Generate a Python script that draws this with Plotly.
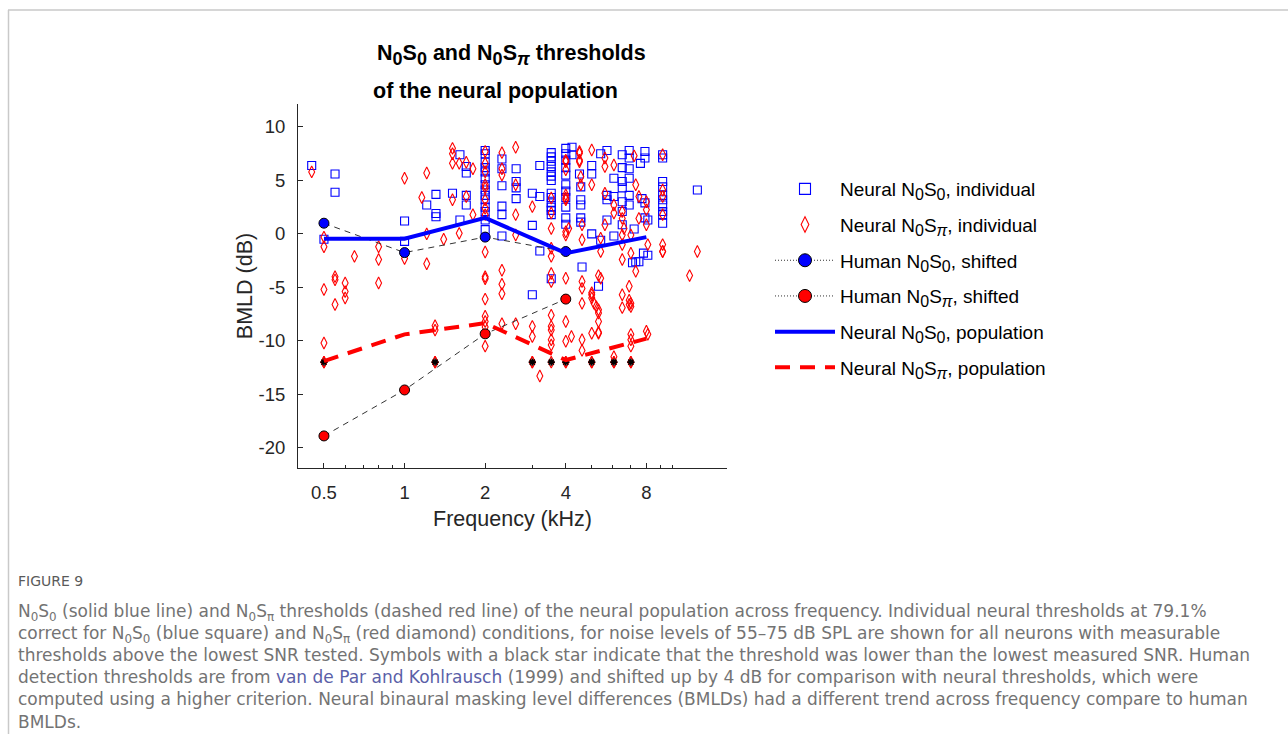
import math
import plotly.graph_objects as go

# ---------------- data ----------------
# Individual neural N0S0 thresholds (CF in kHz, threshold in dB)
s0_freq = [0.45, 0.55, 0.55, 0.5, 1.0, 1.0, 1.21, 1.31, 1.31, 1.31, 1.51, 1.61, 1.61,
           1.70, 1.70, 1.70, 1.70,
           2.0, 2.0, 2.0, 2.0, 2.0, 2.0, 2.0, 2.0, 2.0, 2.0, 2.0, 2.0, 2.0, 2.0,
           2.31, 2.31, 2.31, 2.31, 2.31, 2.31, 2.61, 2.61, 2.61, 2.61,
           3.0, 3.0, 3.0, 3.2, 3.2, 3.2,
           3.53, 3.53, 3.53, 3.53, 3.53, 3.53, 3.53, 3.53, 3.53, 3.53, 3.53, 3.53, 3.53, 3.53,
           4.0, 4.0, 4.0, 4.0, 4.0, 4.0, 4.0, 4.0, 4.0, 4.0, 4.0,
           4.22, 4.22, 4.5, 4.55, 4.55, 4.55, 4.55, 4.55, 4.6,
           5.0, 5.0, 5.0, 5.4, 5.4, 5.7, 5.7, 5.7, 5.7, 5.3,
           6.05, 6.05, 6.05,
           6.5, 6.5, 6.5, 6.5, 6.5, 6.5, 6.5,
           6.9, 6.9, 6.9, 6.9, 6.9, 6.9, 7.1, 7.2,
           7.9, 7.9, 7.6, 7.7, 7.9, 7.9, 8.1, 7.8, 8.1, 7.3, 7.5,
           9.2, 9.2, 9.2, 9.2, 9.2, 9.2, 9.2, 9.2, 9.2, 9.2, 12.4]
s0_thr = [6.4, 5.6, 3.9, -0.5, 1.2, -0.7, 2.7, 3.7, 1.9, 1.6, 3.8, 7.4, 1.3,
          6.3, 5.7, 3.6, 2.7,
          7.8, 7.5, 6.7, 6.2, 5.8, 5.2, 4.6, 4.1, 3.6, 3.2, 2.5, 2.1, 1.3, 0.4,
          7.0, 6.1, 4.5, 2.6, 1.8, -0.2, 6.1, 4.9, 4.3, 3.3,
          3.8, 0.8, -5.7, 6.4, 3.5, -1.6,
          7.6, 7.2, 6.8, 6.3, 5.8, 5.4, 5.0, 3.8, 3.4, 2.9, 2.5, 2.2, 1.8, -4.2,
          8.0, 7.5, 6.9, 6.2, 5.5, 4.6, 4.0, 3.4, 2.5, 1.5, 0.9,
          8.1, 7.4, 5.6, 4.4, 3.2, 2.7, 1.5, 1.1, -3.1,
          6.4, 5.6, 0.0, -0.6, 7.5, 7.8, 3.6, 3.2, 1.3, -4.9,
          5.2, 3.5, -0.2,
          7.4, 6.2, 4.9, 4.3, 3.0, 2.1, 0.85,
          7.8, 7.1, 6.1, 5.2, 3.6, 2.7, -2.7, 0.45,
          7.7, 7.1, 6.6, 3.3, 2.9, 1.5, 1.3, -1.8, -2.0, -2.6, -2.6,
          7.4, 7.1, 4.9, 4.4, 3.6, 3.2, 2.7, 2.1, 1.8, 1.0, 4.1]

# Individual neural N0Spi thresholds
spi_freq = [0.45, 0.5, 0.5, 0.5, 0.5, 0.5,
            0.55, 0.55, 0.55, 0.6, 0.6, 0.6, 0.65, 0.8, 0.8, 0.8,
            1.0, 1.0, 1.16, 1.21, 1.21, 1.21, 1.3, 1.3, 1.3, 1.4,
            1.51, 1.51, 1.51, 1.51, 1.6, 1.6, 1.7, 1.7, 1.8, 1.8,
            2.0, 2.0, 2.0, 2.0, 2.0, 2.0, 2.0, 2.0, 2.0, 2.0, 2.0, 2.0, 2.0, 2.0, 2.0, 2.0,
            2.31, 2.31, 2.31, 2.31, 2.31, 2.31, 2.31,
            2.6, 2.6, 2.6, 2.6, 2.6,
            3.0, 3.0, 3.0, 3.0, 3.2,
            3.53, 3.53, 3.53, 3.53, 3.53, 3.53, 3.53, 3.53, 3.53, 3.53, 3.53, 3.53,
            4.0, 4.0, 4.0, 4.0, 4.0, 4.0, 4.0, 4.0, 4.0, 4.0, 4.0, 4.0, 4.2, 4.1,
            4.5, 4.5, 4.5, 4.5, 4.55, 4.55, 4.6, 4.6,
            4.6, 4.6, 4.6, 4.6, 4.6,
            5.0, 5.0, 5.0, 5.0, 5.0, 5.1, 5.2, 5.3, 5.3, 5.3, 5.0, 5.3, 5.0,
            5.4, 5.4, 5.3, 5.4, 5.3,
            5.6, 5.6, 5.6, 5.6, 6.05, 6.05, 6.05, 6.05, 6.05,
            6.5, 6.5, 6.5, 6.5, 6.5, 6.6, 6.5, 6.5, 6.9, 6.9, 6.9, 7.0, 7.0,
            7.0, 7.0, 7.0, 7.0, 7.0, 7.0, 7.2, 7.3, 7.3, 7.5, 7.5,
            8.0, 8.0, 8.0, 8.0, 8.1, 8.1,
            9.2, 9.2, 9.2, 9.2, 9.2, 9.2, 9.2, 11.6, 12.4]
spi_thr = [5.8, -0.3, -1.2, -5.2, -10.2, -12.0,
           -4.0, -4.3, -6.6, -4.6, -5.4, -6.0, -2.1, -1.2, -2.4, -4.6,
           5.2, -2.3, 3.4, 5.7, 0.0, -2.8, -8.6, -9.0, -12.0, -0.5,
           8.0, 7.5, 6.6, 3.2, 6.6, 0.05, 6.7, 3.5, 6.1, 1.8,
           7.7, 6.6, 5.8, 4.6, 4.3, 3.2, 2.4, 1.8, -1.7, -4.0, -4.2, -6.1, -7.7, -8.2, -8.7, -10.5,
           7.6, 6.1, 5.5, -3.4, -4.7, -5.6, -8.4,
           8.1, 4.6, 1.8, -0.1, -8.4,
           2.55, -8.65, -9.6, -12.0, -13.3,
           3.35, 1.95, 0.5, -1.35, -2.1, -3.7, -4.45, -7.6, -8.65, -9.0, -9.9, -10.4,
           6.75, 6.0, 3.65, 3.2, 0.2, -4.15, -8.2, -10.05, -12.0, 6.9, 3.35, -0.1, -9.6, 0.5,
           7.7, 7.55, 6.9, 6.75, 5.35, 4.6, 0.85, -0.55,
           -4.45, -5.1, -6.5, -9.9, -10.9,
           7.85, 4.6, -5.5, -6.0, -5.7, -6.5, -6.8, -7.4, -8.2, -9.2, -9.3, -9.3, -12.0,
           -0.4, -1.65, -3.9, -4.15, -7.1,
           7.1, 6.3, 3.8, 0.85, 6.45, 2.7, 1.95, -11.5, -12.0,
           2.1, 1.45, -0.1, -1.0, -2.4, 0.5, -5.7, -6.9, -4.9, -6.2, -6.6, -6.5, -6.8,
           -0.1, -1.8, -9.4, -9.9, -10.5, -12.0, 7.3, -3.5, 4.6, 3.5, 1.45, 0.85,
           3.0, 2.25, -9.1, -9.4, -1.0, -1.65,
           7.4, 4.1, 3.5, 1.8, -1.0, -1.65, -3.9, -1.65, 3.8]

# N0Spi thresholds below the lowest measured SNR (marked with a star)
floor_freq = [0.5, 1.3, 3.0, 3.53, 4.0, 5.0, 6.05, 7.0]
floor_thr = [-12.0, -12.0, -12.0, -12.0, -12.0, -12.0, -12.0, -12.0]

# Human detection thresholds (van de Par & Kohlrausch 1999), shifted by +4 dB
human_freq = [0.5, 1, 2, 4]
human_s0 = [1.0, -1.75, -0.3, -1.65]
human_spi = [-18.9, -14.6, -9.35, -6.1]

# Neural population thresholds
pop_freq = [0.5, 1, 2, 4, 8]
pop_s0 = [-0.45, -0.45, 1.5, -1.8, -0.3]
pop_spi = [-11.9, -9.4, -8.35, -11.8, -9.8]

x_tickvals = [0.5, 1, 2, 4, 8]
x_ticktext = ["0.5", "1", "2", "4", "8"]
x_minor = [0.4, 0.6, 0.7, 0.8, 0.9, 3, 5, 6, 7, 9, 10]
y_tickvals = [-20, -15, -10, -5, 0, 5, 10]
y_ticktext = ["-20", "-15", "-10", "-5", "0", "5", "10"]

# ---------------- figure ----------------
W, H = 1288, 734
FONT = "Liberation Sans, Arial, Helvetica, sans-serif"
AX = "#262626"


def px(x):
    return x / W


def py(y):
    return 1 - y / H


def sub(t, size):
    return f"<sub><span style='font-size:{size}px'>{t}</span></sub>"


def n0s(kind, size):
    s = "0" if kind == "0" else "<i>π</i>"
    return "N" + sub("0", size) + "S" + sub(s, size)


fig = go.Figure()

fig.add_trace(go.Scatter(
    x=s0_freq, y=s0_thr, mode="markers", showlegend=False,
    marker=dict(symbol="square-open", size=8, color="rgb(0,0,255)",
                line=dict(width=1.1, color="rgb(0,0,255)")),
))
fig.add_trace(go.Scatter(
    x=spi_freq, y=spi_thr, mode="markers", showlegend=False,
    marker=dict(symbol="diamond-tall-open", size=8.5, color="rgb(255,0,0)",
                line=dict(width=1.1, color="rgb(255,0,0)")),
))
fig.add_trace(go.Scatter(
    x=floor_freq, y=floor_thr, mode="markers", showlegend=False,
    marker=dict(symbol="diamond-tall-open", size=8.5, color="rgb(255,0,0)",
                line=dict(width=1.1, color="rgb(255,0,0)")),
))
fig.add_trace(go.Scatter(
    x=floor_freq, y=floor_thr, mode="markers", showlegend=False,
    marker=dict(symbol="asterisk-open", size=6, color="black",
                line=dict(width=1.6, color="black")),
))

human_line = dict(color="#333333", width=1, dash="6px,5px")
fig.add_trace(go.Scatter(
    x=human_freq, y=human_s0, mode="lines+markers", showlegend=False,
    line=human_line,
    marker=dict(symbol="circle", size=10, color="rgb(0,0,255)",
                line=dict(width=1, color="black")),
))
fig.add_trace(go.Scatter(
    x=human_freq, y=human_spi, mode="lines+markers", showlegend=False,
    line=human_line,
    marker=dict(symbol="circle", size=10, color="rgb(255,0,0)",
                line=dict(width=1, color="black")),
))
fig.add_trace(go.Scatter(
    x=pop_freq, y=pop_s0, mode="lines", showlegend=False,
    line=dict(color="rgb(0,0,255)", width=4),
))
fig.add_trace(go.Scatter(
    x=pop_freq, y=pop_spi, mode="lines", showlegend=False,
    line=dict(color="rgb(255,0,0)", width=4, dash="15px,10px"),
))

# legend entries
LS = 16
legend_items = [
    ("Neural " + n0s("0", LS) + ", individual", "markers",
     dict(symbol="square-open", size=11, color="rgb(0,0,255)", line=dict(width=1.1, color="rgb(0,0,255)")), None),
    ("Neural " + n0s("pi", LS) + ", individual", "markers",
     dict(symbol="diamond-tall-open", size=11, color="rgb(255,0,0)", line=dict(width=1.1, color="rgb(255,0,0)")), None),
    ("Human " + n0s("0", LS) + ", shifted", "lines+markers",
     dict(symbol="circle", size=13, color="rgb(0,0,255)", line=dict(width=1, color="black")),
     dict(color="#333333", width=1, dash="1px,2px")),
    ("Human " + n0s("pi", LS) + ", shifted", "lines+markers",
     dict(symbol="circle", size=13, color="rgb(255,0,0)", line=dict(width=1, color="black")),
     dict(color="#333333", width=1, dash="1px,2px")),
    ("Neural " + n0s("0", LS) + ", population", "lines", None,
     dict(color="rgb(0,0,255)", width=4)),
    ("Neural " + n0s("pi", LS) + ", population", "lines", None,
     dict(color="rgb(255,0,0)", width=4, dash="15px,10px")),
]
for i, (name, mode, marker, line) in enumerate(legend_items):
    kw = dict(x=[None], y=[None], mode=mode, name=name, legendgroup=f"g{i}")
    if marker is not None:
        kw["marker"] = marker
    if line is not None:
        kw["line"] = line
    fig.add_trace(go.Scatter(**kw))

# page frame
fig.add_shape(type="line", xref="paper", yref="paper",
              x0=px(8.5), x1=px(8.5), y0=py(10), y1=py(734),
              line=dict(color="#c9c9c9", width=1.5))
fig.add_shape(type="line", xref="paper", yref="paper",
              x0=px(8), x1=px(1288), y0=py(10), y1=py(10),
              line=dict(color="#c9c9c9", width=1.5))

# chart title
TS = 18
fig.add_annotation(x=px(511), y=py(55), xref="paper", yref="paper", showarrow=False,
                   xanchor="center", yanchor="middle",
                   text="<b>" + n0s("0", TS) + " and " + n0s("pi", TS) + " thresholds</b>",
                   font=dict(family=FONT, size=21.5, color="black"))
fig.add_annotation(x=px(495), y=py(91), xref="paper", yref="paper", showarrow=False,
                   xanchor="center", yanchor="middle",
                   text="<b>of the neural population</b>",
                   font=dict(family=FONT, size=21.5, color="black"))

# caption (one text block, lines broken as in the printed figure)
CAP_FONT = "DejaVu Sans, Open Sans, sans-serif"
CAP_COLOR = "#737373"
LINK = "<span style='color:#5b5fa8'>van de Par and Kohlrausch</span>"
NS0 = "N<sub>0</sub>S<sub>0</sub>"
NSP = "N<sub>0</sub>S<sub>π</sub>"
caption_lines = [
    NS0 + " (solid blue line) and " + NSP + " thresholds (dashed red line) of the neural population across frequency. Individual neural thresholds at 79.1%",
    "correct for " + NS0 + " (blue square) and " + NSP + " (red diamond) conditions, for noise levels of 55–75 dB SPL are shown for all neurons with measurable",
    "thresholds above the lowest SNR tested. Symbols with a black star indicate that the threshold was lower than the lowest measured SNR. Human",
    "detection thresholds are from " + LINK + " (1999) and shifted up by 4 dB for comparison with neural thresholds, which were",
    "computed using a higher criterion. Neural binaural masking level differences (BMLDs) had a different trend across frequency compare to human",
    "BMLDs.",
]
fig.add_annotation(x=px(16), y=py(581), xref="paper", yref="paper", showarrow=False,
                   xanchor="left", yanchor="middle", text="FIGURE 9",
                   font=dict(family=CAP_FONT, size=14, color="#5a5a5a"))
fig.add_annotation(x=px(16), y=py(599), xref="paper", yref="paper",
                   showarrow=False, xanchor="left", yanchor="top", align="left",
                   text="<br>".join(caption_lines),
                   font=dict(family=CAP_FONT, size=17, color=CAP_COLOR))

fig.update_layout(
    width=W, height=H,
    margin=dict(l=0, r=0, t=0, b=0),
    paper_bgcolor="white", plot_bgcolor="white",
    font=dict(family=FONT, size=18, color=AX),
    xaxis=dict(
        type="log", range=[math.log10(0.4), math.log10(16)],
        domain=[px(298), px(727)],
        tickmode="array", tickvals=x_tickvals, ticktext=x_ticktext,
        ticks="inside", ticklen=5, tickwidth=1, tickcolor=AX,
        minor=dict(tickvals=x_minor, ticks="inside", ticklen=3, tickwidth=1, tickcolor=AX),
        showline=True, linecolor=AX, linewidth=1, mirror=False,
        showgrid=False, zeroline=False,
        ticklabelstandoff=8,
        tickfont=dict(family=FONT, size=18.5, color=AX),
        title=dict(text="Frequency (kHz)", standoff=8,
                   font=dict(family=FONT, size=21.5, color=AX)),
    ),
    yaxis=dict(
        range=[-21.9, 12.15],
        domain=[py(468), py(104)],
        tickmode="array", tickvals=y_tickvals, ticktext=y_ticktext,
        ticks="inside", ticklen=5, tickwidth=1, tickcolor=AX,
        showline=True, linecolor=AX, linewidth=1, mirror=False,
        showgrid=False, zeroline=False,
        ticklabelstandoff=8,
        tickfont=dict(family=FONT, size=18.5, color=AX),
        title=dict(text="BMLD (dB)", standoff=0,
                   font=dict(family=FONT, size=21.5, color=AX)),
    ),
    legend=dict(
        x=px(770), y=py(170), xanchor="left", yanchor="top",
        bgcolor="rgba(0,0,0,0)", borderwidth=0,
        font=dict(family=FONT, size=19, color="black"),
        itemwidth=60, tracegroupgap=8, traceorder="grouped",
    ),
)

fig.write_html("out.html")
